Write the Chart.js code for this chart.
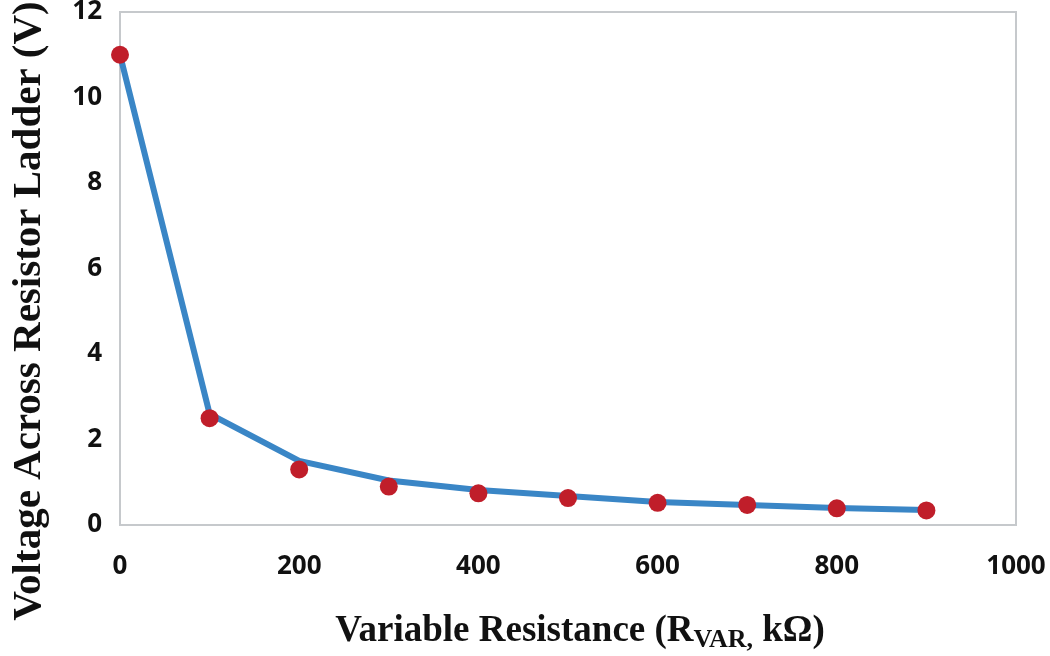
<!DOCTYPE html>
<html>
<head>
<meta charset="utf-8">
<script src="https://cdn.jsdelivr.net/npm/chart.js@4/dist/chart.umd.min.js"></script>
<style>
  html, body { margin: 0; padding: 0; background: #fff; }
  #wrap { width: 1050px; height: 656px; position: relative; }
</style>
</head>
<body>
<div id="wrap"><canvas id="chart"></canvas></div>
<script>
// resistance values (kOhm)
const resistance = [0, 100, 200, 300, 400, 500, 600, 700, 800, 900];
// measured voltage (red dots)
const measured = [11.0, 2.5, 1.3, 0.9, 0.74, 0.63, 0.52, 0.47, 0.39, 0.34];
// calculated curve (blue line)
const calculated = [11.0, 2.6, 1.5, 1.04, 0.82, 0.68, 0.54, 0.47, 0.4, 0.35];

const yTitle = 'Voltage Across Resistor Ladder (V)';
const xTitleParts = [
  { text: 'Variable Resistance (R', size: 37, dy: 0 },
  { text: 'VAR,', size: 26, dy: 6 },
  { text: ' k\u03A9)', size: 37, dy: 0 }
];

function toPoints(xs, ys) {
  return xs.map((x, i) => ({ x: x, y: ys[i] }));
}

const axisTitles = {
  id: 'axisTitles',
  beforeDatasetsDraw(c) {
    // plot border, under the data
    const ctx = c.ctx;
    const area = c.chartArea;
    ctx.save();
    ctx.strokeStyle = '#c6c9cc';
    ctx.lineWidth = 2;
    ctx.strokeRect(area.left, area.top, area.right - area.left, area.bottom - area.top);
    ctx.restore();
  },
  afterDraw(c) {
    const ctx = c.ctx;
    ctx.save();
    ctx.fillStyle = '#111';
    ctx.textBaseline = 'alphabetic';
    // y title
    ctx.save();
    ctx.translate(40, 311);
    ctx.rotate(-Math.PI / 2);
    ctx.font = 'bold 41px "Liberation Serif"';
    ctx.textAlign = 'center';
    ctx.fillText(yTitle, 0, 0);
    ctx.restore();

    // x title with subscript
    let total = 0;
    xTitleParts.forEach(p => {
      ctx.font = 'bold ' + p.size + 'px "Liberation Serif"';
      p.w = ctx.measureText(p.text).width;
      total += p.w;
    });
    let x = 580 - total / 2;
    ctx.textAlign = 'left';
    xTitleParts.forEach(p => {
      ctx.font = 'bold ' + p.size + 'px "Liberation Serif"';
      ctx.fillText(p.text, x, 641 + p.dy);
      x += p.w;
    });
    ctx.restore();
  }
};

const ctx = document.getElementById('chart').getContext('2d');
const chart = new Chart(ctx, {
  type: 'scatter',
  data: {
    datasets: [{
      label: 'Calculated',
      data: toPoints(resistance, calculated),
      showLine: true,
      borderColor: 'rgb(58, 134, 198)',
      borderWidth: 6,
      pointRadius: 0,
      fill: false,
      tension: 0,
      clip: false,
      order: 2
    }, {
      label: 'Measured',
      data: toPoints(resistance, measured),
      showLine: false,
      pointRadius: 9,
      pointHoverRadius: 9,
      pointBackgroundColor: 'rgb(192, 30, 42)',
      pointBorderColor: 'rgb(192, 30, 42)',
      pointBorderWidth: 0,
      clip: false,
      order: 1
    }]
  },
  options: {
    responsive: true,
    maintainAspectRatio: false,
    animation: false,
    layout: { padding: { top: 12, right: 34, left: 0, bottom: 0 } },
    plugins: {
      legend: { display: false },
      tooltip: { enabled: false }
    },
    scales: {
      x: {
        type: 'linear',
        min: 0,
        max: 1000,
        ticks: {
          stepSize: 200,
          padding: 26,
          color: '#111',
          font: { family: 'Open Sans', size: 26, weight: 'bold' },
          callback: v => String(v)
        },
        grid: { display: false, drawTicks: false },
        border: { display: false },
        afterFit(scale) {
          scale.height = 131;
          scale.paddingLeft = 0;
          scale.paddingRight = 0;
        }
      },
      y: {
        min: 0,
        max: 12,
        ticks: {
          stepSize: 2,
          padding: 18,
          color: '#111',
          font: { family: 'Open Sans', size: 26, weight: 'bold' }
        },
        grid: { display: false, drawTicks: false },
        border: { display: false },
        afterFit(scale) {
          scale.width = 120;
          scale.paddingTop = 0;
          scale.paddingBottom = 0;
        }
      }
    }
  },
  plugins: [axisTitles]
});
</script>
</body>
</html>
